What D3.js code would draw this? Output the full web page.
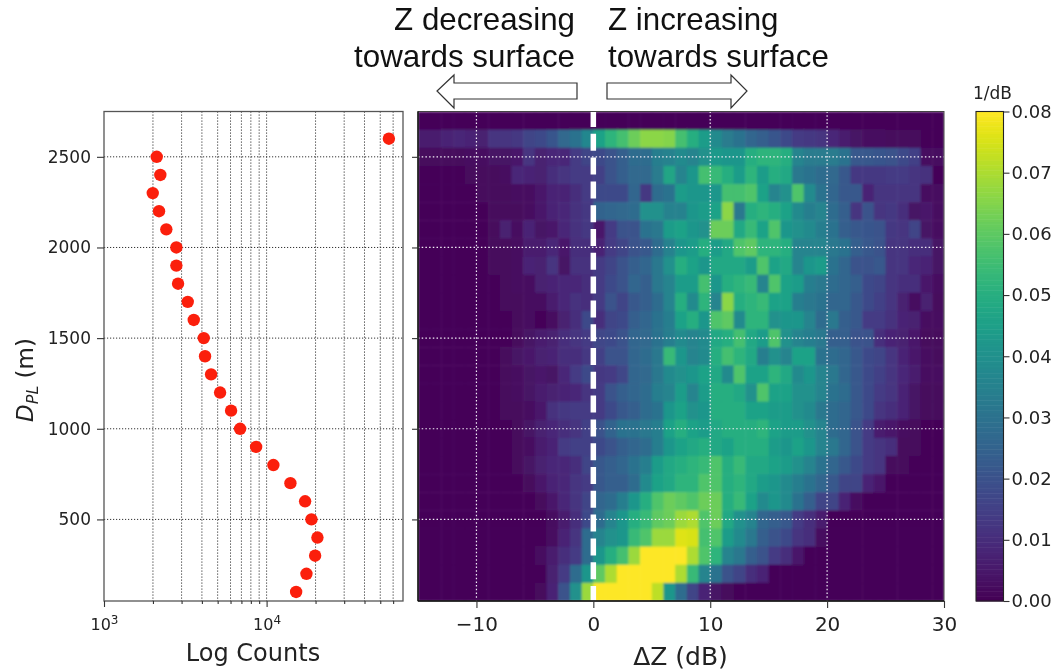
<!DOCTYPE html>
<html><head><meta charset="utf-8">
<script src="https://cdn.jsdelivr.net/npm/d3@7"></script>
<style>html,body{margin:0;padding:0;background:#fff}svg{display:block;filter:blur(.45px)}text{font-family:"DejaVu Sans";fill:#222}</style>
</head><body><div id="c"></div>
<script>
// Left panel: counts per depth bin
const depths=[2600,2500,2400,2300,2200,2100,2000,1900,1800,1700,1600,1500,1400,1300,1200,1100,1000,900,800,700,600,500,400,300,200,100];
const counts=[56500,2110,2220,1994,2180,2417,2786,2786,2854,3274,3565,4107,4183,4555,5175,6047,6870,8620,11010,14010,17250,18870,20540,19880,17580,15190];
const countMajor=[1e3,1e4];
const countMinor=[2e3,3e3,4e3,5e3,6e3,7e3,8e3,9e3,2e4,3e4,4e4,5e4,6e4];
const depthTicks=[500,1000,1500,2000,2500];
// Heat map: bin left edges in dB, density in units of 0.001 / dB
const dzBins=d3.range(-15,30);
const dzTicks=[-10,0,10,20,30];
const colorTicks=[0,.01,.02,.03,.04,.05,.06,.07,.08];
const r2700=[1,1,1,1,1,1,1,1,1,1,1,1,1,1,1,1,1,1,1,1,1,1,1,1,1,1,1,1,1,1,1,1,1,1,1,1,1,1,1,1,1,1,1,1,1];
const r2600=[6,6,8,9,8,7,12,12,13,16,18,21,27,30,37,46,52,56,62,66,66,65,56,50,44,38,33,30,26,24,21,18,14,13,12,9,6,4,3,3,2,2,2,1,1];
const r2500=[2,2,2,2,3,3,4,4,5,12,7,9,9,14,16,18,20,24,28,28,34,35,38,36,40,43,42,42,50,52,52,50,36,33,33,33,30,22,22,21,20,18,15,3,3];
const r2400=[1,1,1,1,2,2,2,3,9,8,7,10,12,14,14,15,20,24,27,27,33,47,36,42,56,54,50,44,52,44,50,48,32,30,28,27,22,13,13,13,14,14,12,11,1];
const r2300=[1,1,1,1,1,2,2,2,3,3,5,8,8,10,14,18,18,18,26,13,28,30,44,42,42,42,56,56,58,46,36,40,58,38,30,26,22,22,8,12,12,12,12,3,3];
const r2200=[1,1,1,1,1,1,2,2,2,3,5,8,9,11,13,25,26,27,28,40,40,35,35,42,44,46,66,32,50,52,50,46,38,34,36,28,24,12,20,12,13,10,4,5,3];
const r2100=[1,1,1,1,1,1,2,7,3,8,4,5,9,11,13,5,14,20,20,30,32,44,46,42,40,62,62,48,54,46,58,42,40,38,34,30,24,22,21,20,13,12,16,4,3];
const r2000=[1,1,1,1,1,1,2,2,3,6,6,9,5,10,10,8,14,16,20,22,28,35,42,44,50,44,48,58,60,52,52,50,36,36,36,32,30,24,22,20,12,12,10,10,4];
const r1900=[1,1,1,1,1,1,2,2,3,8,7,12,4,11,11,14,16,20,24,26,32,40,50,46,42,48,48,48,44,58,46,48,36,42,44,30,26,20,20,22,12,12,9,8,4];
const r1800=[1,1,1,1,1,1,1,2,3,3,7,8,9,9,10,14,18,20,26,24,32,36,44,44,56,42,50,52,54,36,58,46,44,34,32,28,26,24,18,16,12,10,10,5,3];
const r1700=[1,1,1,1,1,1,1,2,2,3,3,6,9,11,10,14,20,16,22,24,28,36,50,38,52,36,66,50,52,54,46,46,34,32,30,26,26,22,18,15,12,7,3,7,2];
const r1600=[1,1,1,1,1,1,1,1,2,3,1,3,7,10,18,10,16,18,24,26,30,34,46,50,42,58,60,38,52,52,40,42,42,36,28,32,24,22,14,14,11,8,7,3,3];
const r1500=[1,1,1,1,1,1,1,1,2,4,6,7,10,12,14,17,18,20,26,27,30,34,38,36,38,48,50,56,48,44,58,40,36,34,32,24,24,20,20,10,8,7,5,2,2];
const r1400=[1,1,1,1,1,1,1,2,4,5,7,8,10,10,13,15,20,20,26,28,32,54,42,36,38,50,56,52,48,34,40,36,46,46,30,28,26,22,18,16,12,8,5,3,2];
const r1300=[1,1,1,1,1,1,1,2,3,4,5,4,9,14,18,13,14,17,26,27,32,38,40,42,46,48,38,58,46,46,52,48,38,42,36,32,26,22,18,15,12,9,6,3,3];
const r1200=[1,1,1,1,1,1,1,2,3,4,6,7,8,9,12,14,20,24,26,28,34,36,44,36,44,50,50,48,40,58,46,46,40,40,36,30,28,22,18,14,12,8,4,2,2];
const r1100=[1,1,1,1,1,1,1,2,2,3,5,11,13,14,14,14,18,22,24,28,30,42,46,40,42,50,50,50,46,46,44,44,40,38,32,28,26,22,18,12,10,8,4,2,2];
const r1000=[1,1,1,1,1,1,1,1,2,4,7,9,10,12,15,20,25,30,30,32,34,46,50,46,44,48,50,50,50,52,46,44,44,40,36,28,26,20,14,6,5,3,2,1,1];
const r900=[1,1,1,1,1,1,1,1,2,3,6,8,14,15,15,18,20,24,26,28,34,42,46,48,50,48,46,50,50,50,44,42,46,42,36,32,26,20,14,12,10,2,2,1,1];
const r800=[1,1,1,1,1,1,1,1,2,4,7,9,9,10,16,22,24,26,30,34,44,48,50,52,54,58,50,54,48,48,46,44,40,36,30,26,22,18,14,12,2,2,1,1,1];
const r700=[1,1,1,1,1,1,1,1,1,2,5,8,9,12,14,22,24,24,28,38,46,48,52,52,58,58,50,52,48,44,42,38,34,30,26,22,16,16,8,5,1,1,1,1,1];
const r600=[1,1,1,1,1,1,1,1,1,1,2,5,9,12,16,26,28,34,42,50,58,62,60,58,62,62,50,54,46,38,42,38,30,24,16,16,8,3,1,1,1,1,1,1,1];
const r500=[1,1,1,1,1,1,1,1,1,1,1,3,6,10,18,28,36,42,50,54,60,62,68,70,58,62,48,40,36,26,24,22,14,10,6,1,1,1,1,1,1,1,1,1,1];
const r400=[1,1,1,1,1,1,1,1,1,1,1,3,8,12,28,36,40,42,54,58,68,68,76,75,56,58,44,38,32,24,20,18,12,10,3,1,1,1,1,1,1,1,1,1,1];
const r300=[1,1,1,1,1,1,1,1,1,1,3,6,10,14,28,42,50,56,68,80,80,80,80,70,58,52,36,32,24,20,14,10,5,1,1,1,1,1,1,1,1,1,1,1,1];
const r200=[1,1,1,1,1,1,1,1,1,1,1,7,14,28,42,60,70,80,80,80,80,80,70,54,36,30,20,16,10,8,1,1,1,1,1,1,1,1,1,1,1,1,1,1,1];
const r100=[1,1,1,1,1,1,1,1,1,1,2,8,20,40,68,80,80,80,80,80,72,42,28,16,8,4,2,1,1,1,1,1,1,1,1,1,1,1,1,1,1,1,1,1,1];
const rows=[r2700,r2600,r2500,r2400,r2300,r2200,r2100,r2000,r1900,r1800,r1700,r1600,r1500,r1400,r1300,r1200,r1100,r1000,r900,r800,r700,r600,r500,r400,r300,r200,r100];
const rowDepths=[2700].concat(depths);

const W=1060,H=671,top_=111.5,bot=601;
const svg=d3.select("#c").append("svg").attr("width",W).attr("height",H);
const defs=svg.append("defs");
defs.append("filter").attr("id","soft").attr("x","-2%").attr("y","-2%").attr("width","104%").attr("height","104%")
 .append("feGaussianBlur").attr("stdDeviation",.8);
defs.append("clipPath").attr("id","heatClip").append("rect").attr("x",418).attr("y",top_).attr("width",526).attr("height",bot-top_);
const yS=d3.scaleLinear().domain([50,2750]).range([bot,top_]);
const xL=d3.scaleLog().domain([1000,69000]).range([104,403]);
const xH=d3.scaleLinear().domain([-15,30]).range([418,944]);
const color=d3.scaleSequential(d3.interpolateViridis).domain([0,.08]).clamp(true);
const dark="#333";

function axisStyle(g,size){g.select(".domain").remove();g.selectAll("line").attr("stroke",dark).attr("stroke-width",1.1);
  g.selectAll("text").style("font-size",size+"px").attr("fill","#222");}

/* ---- left panel ---- */
const L=svg.append("g");
L.append("g").selectAll("line").data(countMajor.slice(1).concat(countMinor)).join("line")
 .attr("x1",d=>xL(d)).attr("x2",d=>xL(d)).attr("y1",top_).attr("y2",bot)
 .attr("stroke","#333").attr("stroke-width",1).attr("stroke-dasharray","1.2,1.8");
L.append("g").selectAll("line").data(depthTicks).join("line")
 .attr("x1",104).attr("x2",403).attr("y1",d=>yS(d)).attr("y2",d=>yS(d))
 .attr("stroke","#333").attr("stroke-width",1).attr("stroke-dasharray","1.2,1.8");
L.append("g").selectAll("circle").data(depths).join("circle")
 .attr("cx",(d,i)=>xL(counts[i])).attr("cy",d=>yS(d)).attr("r",6.2).attr("fill","#fb1f0c");
L.append("rect").attr("x",104).attr("y",top_).attr("width",299).attr("height",bot-top_)
 .attr("fill","none").attr("stroke","#555").attr("stroke-width",1.3);
L.append("g").attr("transform",`translate(104,0)`)
 .call(d3.axisLeft(yS).tickValues(depthTicks).tickSize(7).tickPadding(6).tickFormat(d3.format("d")))
 .call(g=>axisStyle(g,17));
L.append("g").attr("transform",`translate(0,${bot})`)
 .call(d3.axisBottom(xL).tickValues(countMinor).tickSize(3).tickFormat(""))
 .call(g=>axisStyle(g,15));
const mj=L.append("g").attr("transform",`translate(0,${bot})`)
 .call(d3.axisBottom(xL).tickValues(countMajor).tickSize(6).tickPadding(12).tickFormat(""))
 .call(g=>axisStyle(g,16));
mj.selectAll(".tick text").each(function(d){
  const t=d3.select(this);t.text(null).attr("text-anchor","middle");
  t.append("tspan").text("10");
  t.append("tspan").text(String(Math.round(Math.log10(d)))).attr("dy","-6").style("font-size","12px");
});
svg.append("text").attr("x",253).attr("y",661).attr("text-anchor","middle").style("font-size","24px").text("Log Counts");
const yl=svg.append("text").attr("transform","translate(33,380) rotate(-90)").attr("text-anchor","middle").style("font-size","23px");
yl.append("tspan").text("D").style("font-style","italic");
yl.append("tspan").text("PL").attr("dy",5).style("font-size","16px").style("font-style","italic");
yl.append("tspan").text(" (m)").attr("dy",-5);

/* ---- heat map ---- */
const Hm=svg.append("g");
const cells=Hm.append("g").attr("clip-path","url(#heatClip)").append("g").attr("filter","url(#soft)");
rows.forEach((vals,ri)=>{
  const d=rowDepths[ri];
  cells.append("g").selectAll("rect").data(vals).join("rect")
   .attr("x",(v,i)=>xH(dzBins[i])).attr("width",(v,i)=>xH(dzBins[i]+1)-xH(dzBins[i])+.5)
   .attr("y",yS(d+50)).attr("height",yS(d-50)-yS(d+50)+.5)
   .attr("fill",v=>color(v*0.001));
});
Hm.append("g").selectAll("line").data(depthTicks).join("line")
 .attr("x1",418).attr("x2",944).attr("y1",d=>yS(d)).attr("y2",d=>yS(d))
 .attr("stroke","#f2eef6").attr("stroke-width",1.2).attr("stroke-dasharray","1.5,2.2");
Hm.append("g").selectAll("line").data([-10,10,20]).join("line")
 .attr("x1",d=>xH(d)).attr("x2",d=>xH(d)).attr("y1",top_).attr("y2",bot)
 .attr("stroke","#f2eef6").attr("stroke-width",1.2).attr("stroke-dasharray","1.5,2.2");
Hm.append("line").attr("x1",xH(0)).attr("x2",xH(0)).attr("y1",top_).attr("y2",bot)
 .attr("stroke","#fff").attr("stroke-width",5.5).attr("stroke-dasharray","17,6.8").attr("stroke-dashoffset",1.5);
Hm.append("rect").attr("x",418).attr("y",top_).attr("width",526).attr("height",bot-top_)
 .attr("fill","none").attr("stroke","#444").attr("stroke-width",1);
Hm.append("line").attr("x1",418).attr("x2",418).attr("y1",top_).attr("y2",bot).attr("stroke","#111").attr("stroke-width",1.4);
Hm.append("line").attr("x1",418).attr("x2",944).attr("y1",bot).attr("y2",bot).attr("stroke","#111").attr("stroke-width",1.4);
Hm.append("g").attr("transform","translate(418,0)")
 .call(d3.axisLeft(yS).tickValues(depthTicks).tickSize(6).tickFormat(""))
 .call(g=>axisStyle(g,12));
Hm.append("g").attr("transform",`translate(0,${bot})`)
 .call(d3.axisBottom(xH).tickValues(dzTicks).tickSize(7).tickPadding(9).tickFormat(d=>d<0?"\u2212"+(-d):d))
 .call(g=>axisStyle(g,20));
svg.append("text").attr("x",680.5).attr("y",665).attr("text-anchor","middle").style("font-size","25px").text("\u0394Z (dB)");

/* ---- colour bar ---- */
const yC=d3.scaleLinear().domain([0,.08]).range([bot,top_]);
const cb=svg.append("g");
cb.append("g").selectAll("rect").data(d3.range(0,.08,.0004)).join("rect")
 .attr("x",976).attr("width",27.5).attr("y",d=>yC(d+.0004)).attr("height",d=>yC(d)-yC(d+.0004)+.5)
 .attr("fill",d=>color(d+.0002));
cb.append("rect").attr("x",976).attr("y",top_).attr("width",27.5).attr("height",bot-top_)
 .attr("fill","none").attr("stroke","#222").attr("stroke-width",1.1);
cb.append("g").attr("transform","translate(1003.5,0)")
 .call(d3.axisRight(yC).tickValues(colorTicks).tickSize(6).tickPadding(2).tickFormat(d3.format(".2f")))
 .call(g=>axisStyle(g,18));
svg.append("text").attr("x",973).attr("y",99).style("font-size","17px").text("1/dB");

/* ---- annotations ---- */
const ann=svg.append("g");
const ar="Liberation Sans";
[["Z decreasing",575,30,"end"],["towards surface",575,67,"end"],["Z increasing",608,30,"start"],["towards surface",608,67,"start"]]
.forEach(a=>ann.append("text").attr("x",a[1]).attr("y",a[2]).attr("text-anchor",a[3])
  .style("font-family",ar).style("font-size","31.3px").style("fill","#111").text(a[0]));
const arrow=d3.line();
ann.append("path").attr("d",arrow([[577,83],[454,83],[454,75],[437,91],[454,108],[454,99],[577,99]])+"Z")
 .attr("fill","#fff").attr("stroke","#333").attr("stroke-width",1.2);
ann.append("path").attr("d",arrow([[607,83],[731,83],[731,75],[747,91],[731,108],[731,99],[607,99]])+"Z")
 .attr("fill","#fff").attr("stroke","#333").attr("stroke-width",1.2);
</script></body></html>
